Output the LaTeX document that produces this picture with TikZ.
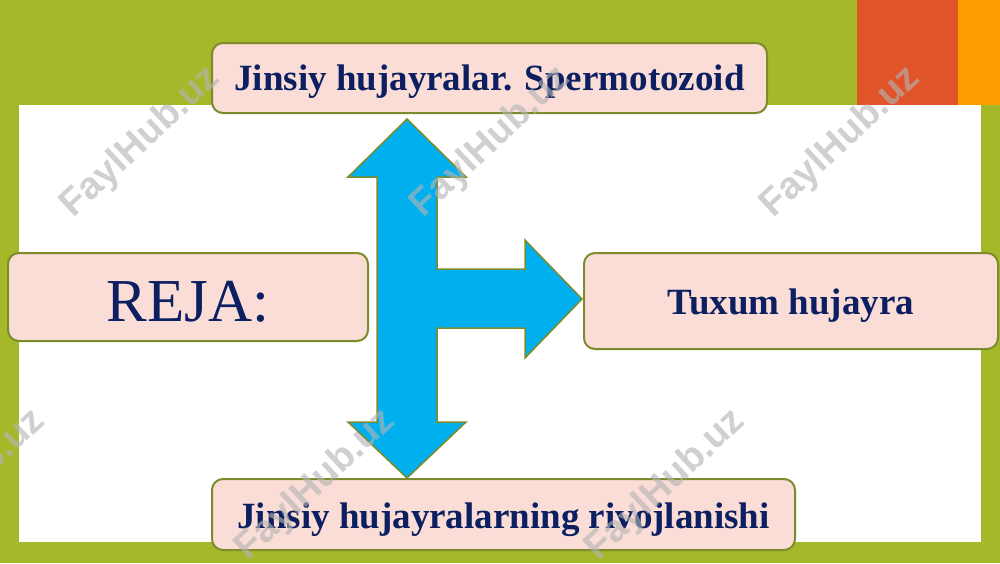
\documentclass[tikz,border=0pt]{standalone}
\usepackage{fontspec}
\setmainfont{Liberation Serif}
\newfontfamily\wmfont{Liberation Sans}
\definecolor{bggreen}{HTML}{A5B82A}
\definecolor{redor}{HTML}{E1542A}
\definecolor{orng}{HTML}{FE9D00}
\definecolor{boxfill}{HTML}{F9DDD6}
\definecolor{boxline}{HTML}{7E8B2A}
\definecolor{arrowblue}{HTML}{00B0EE}
\definecolor{navy}{HTML}{0C1F60}
\definecolor{wmgray}{HTML}{B4B4B4}
\begin{document}
\begin{tikzpicture}[x=1pt,y=-1pt,
  box/.style={draw=boxline, line width=2pt, fill=boxfill, rounded corners=11pt,
    inner sep=0pt},
  boxtext/.style={text=navy, inner sep=0pt, font=\bfseries\fontsize{37}{40}\selectfont},
  wmark/.style={text=wmgray, text opacity=0.62, rotate=43,
    font=\wmfont\bfseries\fontsize{38}{40}\selectfont}]
\useasboundingbox (0,0) rectangle (1000,563);
% background
\fill[bggreen] (0,0) rectangle (1000,563);
\fill[white] (19,105) rectangle (981,542);
\fill[redor] (857,0) rectangle (958,105);
\fill[orng] (958,0) rectangle (1000,105);
% arrow shape
\draw[fill=arrowblue, draw=boxline, line width=1.5pt, line join=miter]
  (407,119) -- (466,177) -- (437,177) -- (437,269) -- (525,269) -- (525,240)
  -- (582,299) -- (525,358) -- (525,328) -- (437,328) -- (437,422) -- (466,422)
  -- (407,478) -- (348,422) -- (377,422) -- (377,177) -- (348,177) -- cycle;
% boxes
\node[box, minimum width=555pt, minimum height=70pt] (top) at (489.5,78) {};
\node[box, minimum width=360pt, minimum height=88pt] (reja) at (188,297) {};
\node[box, minimum width=414pt, minimum height=96pt] (tuxum) at (791,301) {};
\node[box, minimum width=583pt, minimum height=71pt] (bottom) at (503.5,514.5) {};
% texts
\node[boxtext] (toptext) at ([yshift=-4pt]top.center) {Jinsiy hujayralar. Spermotozoid};
\node[boxtext, font=\fontsize{61}{64}\selectfont] (rejatext) at ([yshift=-5pt]reja.center) {REJA:};
\node[boxtext] (tuxumtext) at ([yshift=-5pt]tuxum.center) {Tuxum hujayra};
\node[boxtext] (bottomtext) at ([yshift=-5pt]bottom.center) {Jinsiy hujayralarning rivojlanishi};
% watermarks
\node[wmark] (w1) at (141,142) {FaylHub.uz};
\node[wmark] (w2) at (491,142) {FaylHub.uz};
\node[wmark] (w3) at (841,142) {FaylHub.uz};
\node[wmark] (w4) at (-34,485) {FaylHub.uz};
\node[wmark] (w5) at (316,485) {FaylHub.uz};
\node[wmark] (w6) at (666,485) {FaylHub.uz};
\end{tikzpicture}
\end{document}
